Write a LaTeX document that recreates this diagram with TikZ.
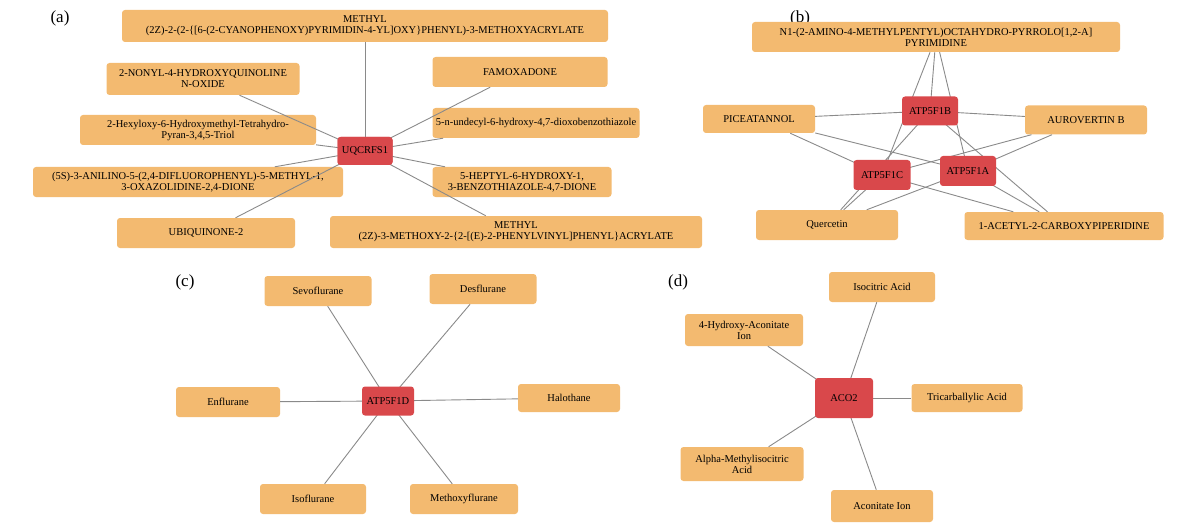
\documentclass[tikz,border=0pt]{standalone}
\usepackage{fontspec}
\setmainfont{Liberation Serif}
\begin{document}
\begin{tikzpicture}[x=1pt,y=-1pt,
 box/.style={fill=orn,rounded corners=3pt,align=center,inner sep=0pt,font=\fontsize{10.5}{11}\selectfont},
 hub/.style={fill=redn,rounded corners=3pt,align=center,inner sep=0pt,font=\fontsize{10.5}{11}\selectfont},
 ed/.style={draw=edg,line width=0.9pt},
 lab/.style={font=\fontsize{17}{18}\selectfont}]
\definecolor{orn}{HTML}{F3BA70}
\definecolor{redn}{HTML}{D9484B}
\definecolor{edg}{HTML}{8A8A8A}
\useasboundingbox (0,0) rectangle (1200,532);
\def\bx#1#2#3#4#5#6{\node[box,minimum width=#4,minimum height=#5] (#1) at (#2,#3) {#6};}
\def\hb#1#2#3#4#5#6{\node[hub,minimum width=#4,minimum height=#5] (#1) at (#2,#3) {#6};}
% (a)
\node[lab] (la) at (60,18) {(a)};
\bx{m1}{365}{26}{486}{32}{METHYL\\(2Z)-2-(2-\{[6-(2-CYANOPHENOXY)PYRIMIDIN-4-YL]OXY\}PHENYL)-3-METHOXYACRYLATE}
\bx{non}{203}{79}{193}{32}{2-NONYL-4-HYDROXYQUINOLINE\\N-OXIDE}
\bx{fam}{520}{72}{175}{30}{FAMOXADONE}
\bx{hex}{198}{130}{236}{30}{2-Hexyloxy-6-Hydroxymethyl-Tetrahydro-\\Pyran-3,4,5-Triol}
\bx{und}{536}{123}{207}{30}{5-n-undecyl-6-hydroxy-4,7-dioxobenzothiazole}
\bx{fss}{188}{182}{310}{30}{(5S)-3-ANILINO-5-(2,4-DIFLUOROPHENYL)-5-METHYL-1,\\3-OXAZOLIDINE-2,4-DIONE}
\bx{hep}{522}{182}{179}{30}{5-HEPTYL-6-HYDROXY-1,\\3-BENZOTHIAZOLE-4,7-DIONE}
\bx{ubi}{206}{233}{178}{30}{UBIQUINONE-2}
\bx{m2}{516}{232}{372}{32}{METHYL\\(2Z)-3-METHOXY-2-\{2-[(E)-2-PHENYLVINYL]PHENYL\}ACRYLATE}
\hb{uq}{365}{151}{55}{28}{UQCRFS1}
\begin{scope}[on background layer/.style={}]
\end{scope}
% (b)
\node[lab] (lb) at (800,18) {(b)};
\bx{n1}{936}{37}{368}{30}{N1-(2-AMINO-4-METHYLPENTYL)OCTAHYDRO-PYRROLO[1,2-A]\\PYRIMIDINE}
\bx{pic}{759}{119}{112}{28}{PICEATANNOL}
\bx{aur}{1086}{120}{122}{29}{AUROVERTIN B}
\bx{que}{827}{225}{142}{30}{Quercetin}
\bx{ace}{1064}{226}{199}{28}{1-ACETYL-2-CARBOXYPIPERIDINE}
% (c)
\node[lab] (lc) at (185,282) {(c)};
\bx{sev}{318}{291}{107}{30}{Sevoflurane}
\bx{des}{483}{289}{107}{30}{Desflurane}
\bx{enf}{228}{402}{104}{30}{Enflurane}
\bx{hal}{569}{398}{102}{28}{Halothane}
\bx{iso}{313}{499}{106}{30}{Isoflurane}
\bx{met}{464}{499}{108}{30}{Methoxyflurane}
% (d)
\node[lab] (ld) at (678,282) {(d)};
\bx{ica}{882}{287}{106}{30}{Isocitric Acid}
\bx{hya}{744}{330}{118}{32}{4-Hydroxy-Aconitate\\Ion}
\bx{tca}{967}{398}{111}{28}{Tricarballylic Acid}
\bx{ama}{742}{464}{123}{34}{Alpha-Methylisocitric\\Acid}
\bx{aci}{882}{506}{102}{32}{Aconitate Ion}
% edges drawn, then hubs on top
\foreach \t in {m1,non,fam,hex,und,fss,hep,ubi,m2} \draw[ed] (uq.center) -- (\t);
\coordinate (pB) at (930,111);
\coordinate (pC) at (882,175);
\coordinate (pA) at (968,171);
\foreach \h in {pB,pC,pA} \foreach \t in {n1,pic,aur,que,ace} \draw[ed] (\h) -- (\t);
\coordinate (pD) at (388,401);
\foreach \t in {sev,des,enf,hal,iso,met} \draw[ed] (pD) -- (\t);
\coordinate (pE) at (844,398);
\foreach \t in {ica,hya,tca,ama,aci} \draw[ed] (pE) -- (\t);
\hb{uq2}{365}{151}{55}{28}{UQCRFS1}
\hb{b}{930}{111}{56}{29}{ATP5F1B}
\hb{c}{882}{175}{57}{30}{ATP5F1C}
\hb{a}{968}{171}{56}{30}{ATP5F1A}
\hb{d}{388}{401}{52}{29}{ATP5F1D}
\hb{e}{844}{398}{58}{40}{ACO2}
% redraw orange boxes over edge ends
\foreach \t/\x/\y/\w/\hh in {m1/365/26/486/32,non/203/79/193/32,fam/520/72/175/30,hex/198/130/236/30,und/536/123/207/30,fss/188/182/310/30,hep/522/182/179/30,ubi/206/233/178/30,m2/516/232/372/32}
 {}
\end{tikzpicture}
\end{document}
